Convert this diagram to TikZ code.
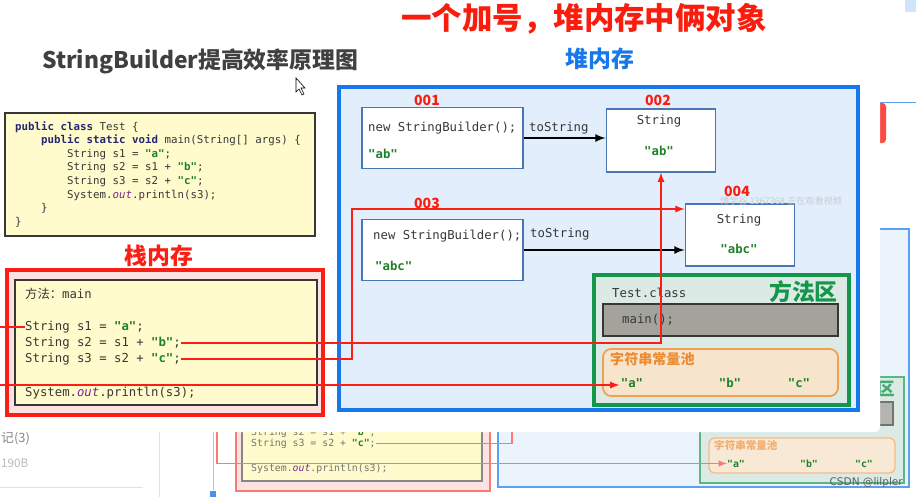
\documentclass[tikz,border=0pt]{standalone}
\usepackage{fontspec}
\usepackage{tikz}
\usetikzlibrary{positioning,arrows}
\newfontfamily\cjk{Noto Sans CJK SC}
\newfontfamily\codefont{DejaVu Sans Mono}
\definecolor{titlered}{RGB}{250,28,12}
\definecolor{titlegray}{RGB}{64,64,64}
\definecolor{heapblue}{RGB}{22,120,235}
\definecolor{heapfill}{RGB}{226,238,252}
\definecolor{objblue}{RGB}{72,120,180}
\definecolor{stackred}{RGB}{250,30,20}
\definecolor{stackfill}{RGB}{252,226,224}
\definecolor{codeyellow}{RGB}{255,251,204}
\definecolor{areagreen}{RGB}{20,150,75}
\definecolor{areafill}{RGB}{220,234,230}
\definecolor{maingray}{RGB}{163,163,155}
\definecolor{poolorange}{RGB}{242,160,80}
\definecolor{pooltext}{RGB}{236,140,50}
\definecolor{poolfill}{RGB}{246,228,204}
\definecolor{strgreen}{RGB}{30,130,40}
\definecolor{kwnavy}{RGB}{35,40,110}
\definecolor{fieldpurple}{RGB}{120,40,140}
\definecolor{inkgray}{RGB}{55,55,55}
\definecolor{markgray}{RGB}{200,204,210}
\newcommand{\jkw}[1]{{\bfseries\color{kwnavy}#1}}
\newcommand{\jstr}[1]{{\bfseries\color{strgreen}"#1"}}

\begin{document}
\begin{tikzpicture}[
x=0.03cm, y=-0.03cm,
heading/.style={
	font=\cjk\bfseries\fontsize{19.5}{22}\selectfont,
	inner sep=0pt
},
addr/.style={
	text=titlered,
	font=\cjk\bfseries\fontsize{12}{14}\selectfont,
	inner sep=0pt
},
code/.style={
	text=inkgray,
	font=\codefont\fontsize{10.5}{12}\selectfont,
	inner sep=0pt,
	anchor=base west
},
bgcode/.style={
	code,
	text=inkgray!70,
	font=\codefont\fontsize{8.4}{10}\selectfont
},
objbox/.style={
	draw=objblue,
	fill=white,
	line width=1.5pt,
	minimum width=4.83cm,
	minimum height=1.83cm
},
strbox/.style={
	objbox,
	minimum width=3.27cm,
	minimum height=1.87cm
},
ref/.style={
	draw=stackred,
	line width=1.7pt
},
call/.style={
	draw=black,
	line width=2pt,
	-latex
}
]

\useasboundingbox (0,0) rectangle (916,497);
\fill[white] (0,0) rectangle (916,497);

% page behind the slide
\fill[heapblue!20] (905,0) rectangle (916,12);
\draw[heapblue!70, line width=0.8pt] (879,102) -- (916,102);
\fill[stackred!80, rounded corners=3pt] (860,103) rectangle (886,143);
\draw[heapblue!70, line width=2pt, fill=heapfill!70] (498,229) rectangle (909,487);
\draw[stackred!60, line width=2.5pt, fill=stackfill] (236,380) rectangle (490,491);
\draw[inkgray!60, line width=1pt, fill=codeyellow] (242,390) rectangle (482,481);
\node[bgcode] (bgs2) at (251,435) {String s2 = s1 + \jstr{b};};
\node[bgcode] (bgs3) at (251,446) {String s3 = s2 + \jstr{c};};
\node[bgcode] (bgprint) at (251,471) {System.{\itshape\color{fieldpurple}out}.println(s3);};
\draw[areagreen!70, line width=2pt, fill=areafill] (700,377) rectangle (904,483);
\node[heading, text=areagreen!80, anchor=east, font=\cjk\bfseries\fontsize{15}{17}\selectfont] (bgarea) at (895,389) {方法区};
\draw[inkgray!70, line width=1pt, fill=maingray!80] (706,402) rectangle (893,425);
\draw[poolorange!70, line width=1.2pt, fill=poolfill!80, rounded corners=5pt] (709,438) rectangle (895,473);
\node[anchor=west, inner sep=0pt, text=pooltext!70, font=\cjk\bfseries\fontsize{9}{11}\selectfont] (bgpool) at (714,445) {字符串常量池};
\node[bgcode, anchor=base] (bga) at (736,467) {\jstr{a}};
\node[bgcode, anchor=base] (bgb) at (809,467) {\jstr{b}};
\node[bgcode, anchor=base] (bgc) at (864,467) {\jstr{c}};
\draw[ref, stackred!60, line width=1.4pt] (bgs3.east) -| (512,400);
\draw[ref, stackred!60, line width=1.4pt, -latex] (217,400) |- (bga.west);
\node[anchor=east, inner sep=0pt, text=inkgray!80, font=\fontspec{DejaVu Sans}\fontsize{9}{11}\selectfont] (csdn) at (903,483) {CSDN @lilpler};
\node[anchor=west, inner sep=0pt, text=inkgray!60, font=\cjk\fontsize{11}{13}\selectfont] (notes) at (1,438) {记(3)};
\node[anchor=west, inner sep=0pt, text=inkgray!35, font=\cjk\fontsize{10}{12}\selectfont] (size) at (1,463) {190B};
\draw[inkgray!15, line width=0.6pt] (0,487) -- (143,487);
\draw[inkgray!15, line width=0.6pt] (159,432) -- (159,497);
\draw[inkgray!30, line width=0.6pt] (213,432) -- (213,490);
\fill[heapblue!80] (210,491) rectangle (216,497);

% the slide
\fill[white, rounded corners=4pt] (-10,-10) rectangle (880,432);

\node[heading, text=titlered, font=\cjk\bfseries\fontsize{26}{30}\selectfont] (slogan) at (584,19) {一个加号，堆内存中俩对象};
\node[heading, text=titlegray, anchor=west] (caption) at (42,61) {StringBuilder提高效率原理图};
\node[heading, text=heapblue] (heaptitle) at (600,59) {堆内存};
\fill[white, draw=black, line width=0.5pt] (296,78) -- (296,92) -- (299,89) -- (302,95) -- (304,94) -- (301,88) -- (305,88) -- cycle;

\node[draw=inkgray, line width=1.4pt, fill=codeyellow, minimum width=9.3cm, minimum height=3.69cm] (source) at (160,174.5) {};
\node[anchor=north west, align=left, text=inkgray, inner sep=0pt, font=\codefont\fontsize{9.2}{11.65}\selectfont] (listing) at (15,121) {
\jkw{public class} Test \{\\
\hspace*{0.78cm}\jkw{public static void} main(String[] args) \{\\
\hspace*{1.56cm}String s1 = \jstr{a};\\
\hspace*{1.56cm}String s2 = s1 + \jstr{b};\\
\hspace*{1.56cm}String s3 = s2 + \jstr{c};\\
\hspace*{1.56cm}System.{\itshape\color{fieldpurple}out}.println(s3);\\
\hspace*{0.78cm}\}\\
\}};

\node[heading, text=stackred] (stacktitle) at (159,256) {栈内存};
\node[draw=stackred, line width=3.4pt, fill=stackfill, minimum width=9.48cm, minimum height=4.35cm] (stack) at (165,342.5) {};
\node[draw=inkgray, line width=1.4pt, fill=codeyellow, minimum width=9.06cm, minimum height=3.75cm] (frame) at (166,342.5) {};
\node[code] (method) at (25,298) {{\cjk 方法：}main};
\node[code] (s1) at (25,330) {String s1 = \jstr{a};};
\node[code] (s2) at (25,346) {String s2 = s1 + \jstr{b};};
\node[code] (s3) at (25,362) {String s3 = s2 + \jstr{c};};
\node[code] (print) at (25,396) {System.{\itshape\color{fieldpurple}out}.println(s3);};

\node[draw=heapblue, line width=3.4pt, fill=heapfill, minimum width=15.57cm, minimum height=9.69cm] (heap) at (598.5,248.5) {};

\node[objbox] (sb1) at (442.5,138) {};
\node[addr] (a001) at (427,100) {001};
\node[code] (sb1new) at (368,131) {new StringBuilder();};
\node[code] (sb1val) at (368,158) {\jstr{ab}};
\node[strbox] (str1) at (661,140.5) {};
\node[addr] (a002) at (658,100) {002};
\node[code, anchor=base] (str1type) at (659,124) {String};
\node[code, anchor=base] (str1val) at (659,155) {\jstr{ab}};
\node[code] (conv1) at (529,131) {toString};

\node[objbox] (sb2) at (442.5,250) {};
\node[addr] (a003) at (427,203) {003};
\node[code] (sb2new) at (373,239) {new StringBuilder();};
\node[code] (sb2val) at (375,270) {\jstr{abc}};
\node[strbox] (str2) at (740,235) {};
\node[addr] (a004) at (737,191) {004};
\node[code, anchor=base] (str2type) at (739,223) {String};
\node[code, anchor=base] (str2val) at (739,253) {\jstr{abc}};
\node[code] (conv2) at (530,237) {toString};
\node[text=markgray, inner sep=0pt, font=\cjk\fontsize{7.8}{9}\selectfont] (viewer) at (781,201) {博学谷 1367368 正在观看视频};

\node[draw=areagreen, line width=3pt, fill=areafill, minimum width=7.65cm, minimum height=3.9cm] (area) at (721.5,340) {};
\node[heading, text=areagreen, anchor=east] (areatitle) at (838,292) {方法区};
\node[code] (cls) at (612,297) {Test.class};
\node[draw=inkgray, line width=1.4pt, fill=maingray, minimum width=7.05cm, minimum height=0.96cm] (mainm) at (720.5,320) {};
\node[code] (mainc) at (622,323) {main();};
\node[draw=poolorange, line width=1.5pt, fill=poolfill, rounded corners=7pt, minimum width=7.05cm, minimum height=1.41cm] (pool) at (720.5,372.5) {};
\node[anchor=west, inner sep=0pt, text=pooltext, font=\cjk\bfseries\fontsize{12}{14}\selectfont] (pooltitle) at (610,359) {字符串常量池};
\node[code, anchor=base, inner sep=1pt] (pa) at (632,387) {\jstr{a}};
\node[code, anchor=base, inner sep=1pt] (pb) at (730,387) {\jstr{b}};
\node[code, anchor=base, inner sep=1pt] (pc) at (799,387) {\jstr{c}};

\draw[call] (sb1.east) -- (sb1.east -| str1.west);
\draw[call] (sb2.east) -- (sb2.east -| str2.west);

\coordinate (turn1) at (-4,385);
\coordinate (turn3) at (352,209);
\draw[ref, -latex] (s1.west) -| (turn1) -- (turn1 -| pa.west);
\draw[ref, -latex] (s2.east) -| (str1.south);
\draw[ref, -latex] (s3.east) -| (turn3) -- (turn3 -| str2.west);

\end{tikzpicture}
\end{document}
